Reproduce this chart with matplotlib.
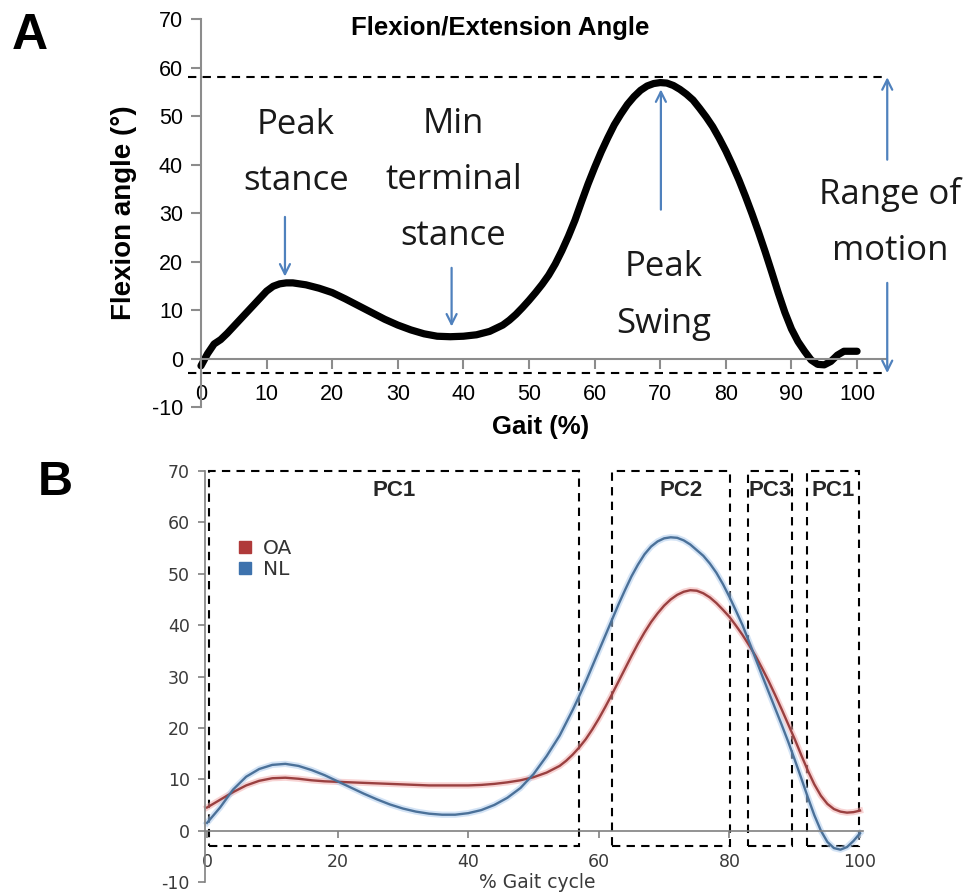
import matplotlib
matplotlib.use("Agg")
import matplotlib.pyplot as plt
from matplotlib.lines import Line2D
from matplotlib.patches import Rectangle

plt.rcParams["axes.unicode_minus"] = False

# ---- panel A: single knee flexion curve ----
gait_a = [0, 1, 2, 3, 4, 6, 8, 10, 11, 12, 13, 14, 16, 18, 20, 22, 24, 26, 28, 30, 32,
          34, 36, 38, 40, 42, 44, 46, 47, 48, 49, 50, 51, 52, 53, 54, 55, 56, 57, 58,
          59, 60, 61, 62, 63, 64, 65, 66, 67, 68, 69, 70, 71, 72, 73, 74, 75, 76, 77,
          78, 79, 80, 81, 82, 83, 84, 85, 86, 87, 88, 89, 90, 91, 92, 93, 94, 95, 96,
          97, 98, 99, 100]
angle_a = [-1.5, 1.0, 3.0, 3.9, 5.2, 8.1, 11.0, 13.9, 14.9, 15.4, 15.6, 15.6, 15.2, 14.5,
           13.6, 12.3, 10.9, 9.5, 8.1, 6.9, 5.9, 5.1, 4.6, 4.5, 4.6, 4.9, 5.6, 6.9, 7.9,
           9.1, 10.5, 12.0, 13.6, 15.3, 17.2, 19.5, 22.2, 25.2, 28.5, 32.3, 36.0, 39.4,
           42.6, 45.5, 48.2, 50.4, 52.4, 54.0, 55.3, 56.2, 56.7, 56.9, 56.8, 56.3, 55.5,
           54.5, 53.3, 51.6, 49.8, 47.8, 45.4, 42.8, 39.9, 36.8, 33.4, 29.8, 26.0, 22.0,
           17.8, 13.5, 9.5, 6.1, 3.5, 1.5, -0.3, -1.2, -1.3, -0.6, 0.7, 1.5, 1.5, 1.5]
rom_max = 58
rom_min = -3

# ---- panel B: OA vs NL ----
gait_b = [0, 2, 4, 6, 8, 10, 12, 14, 16, 18, 20, 22, 24, 26, 28, 30, 32, 34, 36, 38, 40,
          42, 44, 46, 48, 50, 52, 54, 55, 56, 57, 58, 59, 60, 61, 62, 63, 64, 65, 66, 67,
          68, 69, 70, 71, 72, 73, 74, 75, 76, 77, 78, 79, 80, 81, 82, 83, 84, 85, 86, 87,
          88, 89, 90, 91, 92, 93, 94, 95, 96, 97, 98, 99, 100]
nl = [1.5, 4.5, 8, 10.5, 12, 12.8, 13, 12.6, 11.8, 10.8, 9.6, 8.4, 7.2, 6.1, 5.1, 4.3,
      3.7, 3.3, 3.1, 3.1, 3.4, 4, 5, 6.4, 8.3, 11, 14.5, 18.5, 21, 23.5, 26.2, 29, 32,
      35, 38, 41, 44, 46.8, 49.5, 51.8, 53.8, 55.3, 56.3, 56.9, 57.1, 57, 56.5, 55.7,
      54.6, 53.5, 52, 50.2, 48, 45.5, 42.8, 40, 36.8, 33.5, 30.2, 27, 23.8, 20.6, 17.3,
      13.8, 10.2, 6.5, 3, 0, -2.2, -3.4, -3.7, -3.2, -2, -0.5]
oa = [4.5, 6, 7.5, 8.8, 9.7, 10.2, 10.3, 10.1, 9.8, 9.6, 9.5, 9.4, 9.3, 9.2, 9.1, 9,
      8.9, 8.8, 8.8, 8.8, 8.8, 8.9, 9.1, 9.4, 9.8, 10.4, 11.3, 12.6, 13.6, 14.8, 16.2,
      17.8, 19.7, 21.8, 24.1, 26.5, 29, 31.5, 34, 36.4, 38.6, 40.6, 42.3, 43.8, 45,
      45.9, 46.5, 46.8, 46.7, 46.2, 45.4, 44.3, 43, 41.6, 39.9, 38.1, 36.1, 34, 31.6,
      29.1, 26.4, 23.6, 20.7, 17.8, 14.7, 11.7, 9, 6.8, 5.2, 4.2, 3.7, 3.5, 3.6, 3.9]
pc_start = [0.3, 62, 82.8, 91.9]
pc_end = [57, 80.1, 89.6, 99.8]
pc_names = ["PC1", "PC2", "PC3", "PC1"]
box_top = 70
box_bottom = -3

ARROW = "#4F81BD"
NOTE_FONT = "Open Sans"

fig = plt.figure(figsize=(9.69, 8.94), dpi=100)

# ================= A =================
ax = fig.add_axes([0.1871, 0.5447, 0.738, 0.434])
ax.plot(gait_a, angle_a, color="black", lw=5.2, solid_capstyle="round", solid_joinstyle="round")
ax.hlines([rom_max, rom_min], -2, 104.6, colors="black", linestyles=(0, (4, 3)), lw=1.5)
ax.set_xlim(-3, 106)
ax.set_ylim(-10, 70)
for s in ["top", "right"]:
    ax.spines[s].set_visible(False)
ax.spines["left"].set_position(("data", 0))
ax.spines["bottom"].set_position(("data", 0))
ax.spines["bottom"].set_bounds(0, 104.6)
for s in ["left", "bottom"]:
    ax.spines[s].set_color("#8c8c8c")
    ax.spines[s].set_linewidth(1.5)
ax.set_xticks(range(0, 101, 10))
ax.set_yticks(range(-10, 71, 10))
ax.tick_params(axis="both", colors="#8c8c8c", width=1.5, length=7, labelcolor="black",
               labelsize=15.5)
ax.tick_params(axis="x", pad=11)
ax.tick_params(axis="y", pad=6)
for lab in ax.get_xticklabels() + ax.get_yticklabels():
    lab.set_family("Liberation Sans")
ax.set_ylabel("Flexion angle (°)", fontsize=20, fontweight="bold", family="Liberation Sans")
ax.yaxis.set_label_coords(-0.062, 0.5)
ax.set_xlabel("Gait (%)", fontsize=18.5, fontweight="bold", family="Liberation Sans")
ax.xaxis.set_label_coords(0.503, -0.02)
ax.text(0.446, 0.977, "Flexion/Extension Angle", transform=ax.transAxes, ha="center",
        va="center", fontsize=18.5, fontweight="bold", family="Liberation Sans")

note = dict(ha="center", va="center", fontsize=25, family=NOTE_FONT, linespacing=1.85,
            color="#1a1a1a")
ax.text(14.5, 42.3, "Peak\nstance", **note)
ax.text(38.5, 36.8, "Min\nterminal\nstance", **note)
ax.text(70.5, 13.0, "Peak\nSwing", **note)
ax.text(105, 28.0, "Range of\nmotion", clip_on=False, **note)

arr = dict(arrowstyle="->", color=ARROW, lw=1.6, mutation_scale=18, shrinkA=0, shrinkB=0)
ax.annotate("", xy=(12.8, 16.9), xytext=(12.8, 29.2), arrowprops=arr)
ax.annotate("", xy=(38.2, 6.6), xytext=(38.2, 18.7), arrowprops=arr)
ax.annotate("", xy=(70.1, 55.5), xytext=(70.1, 30.7), arrowprops=arr)
ax.annotate("", xy=(104.6, rom_max), xytext=(104.6, 41), arrowprops=arr, annotation_clip=False)
ax.annotate("", xy=(104.6, rom_min), xytext=(104.6, 15.6), arrowprops=arr, annotation_clip=False)

# ================= B =================
bx = fig.add_axes([0.1934, 0.01342, 0.7346, 0.4597])
OA_C = "#b03a3a"
NL_C = "#3d72ad"
bx.plot(gait_b, oa, color="#f2b0b0", lw=4.5, alpha=0.55)
bx.plot(gait_b, nl, color="#b0cdee", lw=4.5, alpha=0.55)
bx.plot(gait_b, oa, color="#9a4040", lw=1.7)
bx.plot(gait_b, nl, color="#4b7199", lw=1.7)
for x0, x1, name in zip(pc_start, pc_end, pc_names):
    bx.add_patch(Rectangle((x0, box_bottom), x1 - x0, box_top - box_bottom, fill=False,
                           edgecolor="black", lw=1.5, linestyle=(0, (4, 3)), clip_on=False))
    bx.text((x0 + x1) / 2 + (1.5 if name == "PC2" else 0), 66.3, name, ha="center", va="center",
            fontsize=16, fontweight="bold", color="#262626", family="Liberation Sans")
bx.set_xlim(-3, 106)
bx.set_ylim(-10, 70)
for s in ["top", "right"]:
    bx.spines[s].set_visible(False)
bx.spines["left"].set_position(("data", -0.3))
bx.spines["bottom"].set_position(("data", 0))
bx.spines["bottom"].set_bounds(-0.3, 100.5)
for s in ["left", "bottom"]:
    bx.spines[s].set_color("#808080")
    bx.spines[s].set_linewidth(1.2)
bx.set_xticks(range(0, 101, 20))
bx.set_yticks(range(-10, 71, 10))
bx.tick_params(axis="both", colors="#808080", width=1.2, length=5, labelcolor="#3a3a3a",
               labelsize=12.5)
bx.tick_params(axis="x", pad=11)
bx.tick_params(axis="y", pad=6)
bx.set_xlabel("% Gait cycle", fontsize=13.5, color="#3a3a3a")
bx.xaxis.set_label_coords(0.491, 0.022)
handles = [Line2D([], [], ls="none", marker="s", markersize=9, color=OA_C),
           Line2D([], [], ls="none", marker="s", markersize=9, color=NL_C)]
leg = bx.legend(handles, ["OA", "NL"], loc="upper left", bbox_to_anchor=(0.0697, 0.835),
                frameon=False, fontsize=14.5, handlelength=0.8, handletextpad=0.5,
                labelspacing=0.1, borderpad=0, borderaxespad=0)
for t in leg.get_texts():
    t.set_color("#333333")

fig.text(0.012, 0.985, "A", fontsize=36, fontweight="bold", va="top", family="Liberation Sans")
fig.text(0.039, 0.4855, "B", fontsize=35, fontweight="bold", va="top", family="Liberation Sans")

fig.savefig("out.png", dpi=100)
